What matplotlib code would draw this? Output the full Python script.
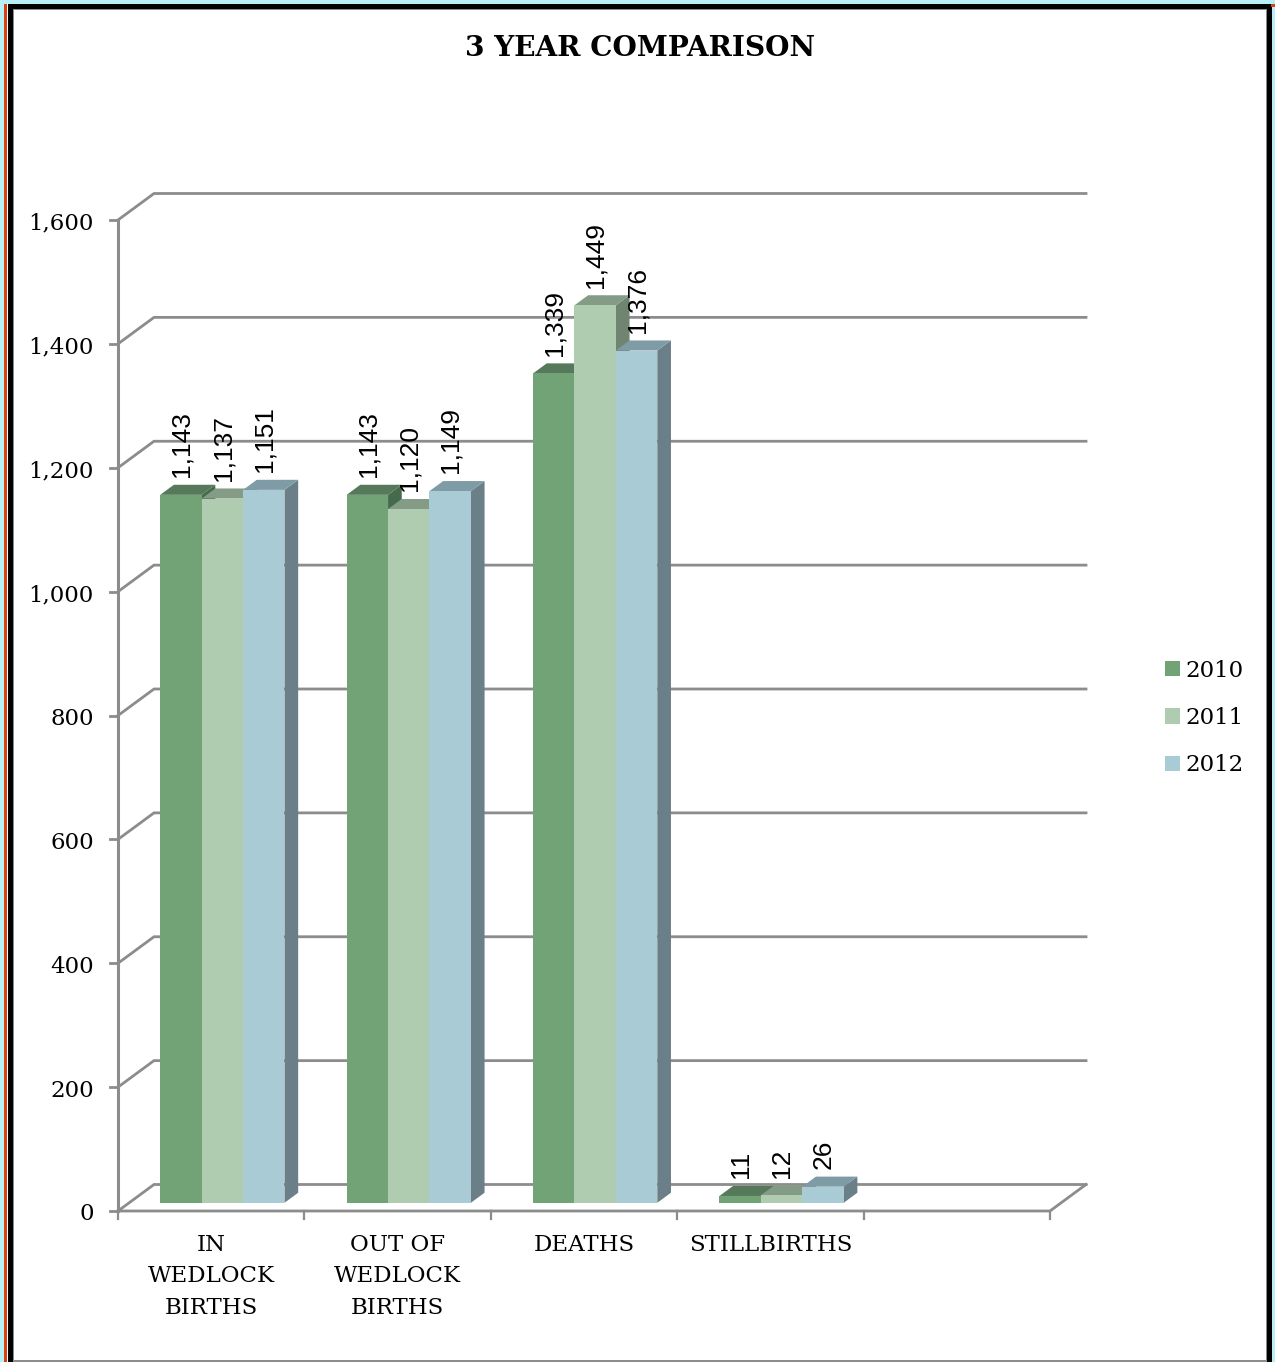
import matplotlib
matplotlib.use('Agg')
import matplotlib.pyplot as plt
from matplotlib.patches import Polygon, Rectangle

categories = ['IN\nWEDLOCK\nBIRTHS', 'OUT OF\nWEDLOCK\nBIRTHS', 'DEATHS', 'STILLBIRTHS']
series_names = ['2010', '2011', '2012']
values_2010 = [1143, 1143, 1339, 11]
values_2011 = [1137, 1120, 1449, 12]
values_2012 = [1151, 1149, 1376, 26]
y_ticks = [0, 200, 400, 600, 800, 1000, 1200, 1400, 1600]

front_colors = ['#72a377', '#afccb0', '#a8cbd6']
top_colors = ['#55795a', '#849c86', '#7f9ba6']
side_colors = ['#466a4c', '#6f8571', '#6a7f88']
grid_color = '#8c8c8c'

W, H = 1275, 1362
fig = plt.figure(figsize=(W / 100, H / 100), dpi=100)
fig.patch.set_facecolor('white')


def box(l, t, r, b):
    # pixel box, top-left origin -> figure fraction
    return [l / W, 1 - b / H, (r - l) / W, (b - t) / H]


# frame around the picture
frame = [((0, 0, 1275, 4), '#b8eef5'), ((0, 0, 4, 1362), '#b8eef5'),
         ((1272, 0, 1275, 1362), '#b8eef5'), ((4, 4, 7, 1362), '#d8400f'),
         ((7, 4, 8, 1362), 'white'), ((8, 4, 1272, 9), 'black'), ((8, 4, 13, 1362), 'black'),
         ((1267, 4, 1272, 1362), 'black'), ((1271, 4, 1275, 7), '#d8400f'),
         ((13, 9, 1267, 10), '#8c8c8c'), ((13, 9, 14, 1362), '#8c8c8c'),
         ((1266, 9, 1267, 1362), '#8c8c8c'), ((13, 1360, 1267, 1362), '#8c8c8c')]
for (l, t, r, b), c in frame:
    x0, y0, w, h = box(l, t, r, b)
    fig.add_artist(Rectangle((x0, y0), w, h, transform=fig.transFigure, fc=c, ec='none'))

ax = fig.add_axes(box(118, 220, 1050, 1211))
ax.set_xlim(0, 5)
ax.set_ylim(0, 1600)
ax.axis('off')

# oblique depth of the 3d box, in data units
px_x = 5 / 932
px_y = 1600 / 991
depth_x = 36 * px_x
depth_y = 26.5 * px_y


def proj(x, y, d):
    return x + d * depth_x, y + d * depth_y


# walls and floor
for v in y_ticks:
    ax.plot([0, depth_x, 5 + depth_x], [v, v + depth_y, v + depth_y], color=grid_color,
            lw=2, clip_on=False, zorder=1, solid_joinstyle='miter')
    ax.plot([-8 * px_x, 0], [v, v], color=grid_color, lw=2, clip_on=False, zorder=1)
ax.plot([0, 0], [0, 1600], color=grid_color, lw=2.2, clip_on=False, zorder=1)
ax.plot([0, 5, 5 + depth_x], [0, 0, depth_y], color=grid_color, lw=2, clip_on=False, zorder=1)
for i in range(6):
    ax.plot([i, i], [0, -8 * px_y], color=grid_color, lw=1.6, clip_on=False, zorder=1)

# bars, back to front and left to right
d0, d1 = 0.31, 0.69
bar_w = 2 / 9
series = [values_2010, values_2011, values_2012]
z = 2
for c in range(len(categories)):
    for s in range(3):
        v = series[s][c]
        left = c + 1 / 6 + s * bar_w
        right = left + bar_w
        top = [proj(left, v, d0), proj(right, v, d0), proj(right, v, d1), proj(left, v, d1)]
        side = [proj(right, 0, d0), proj(right, v, d0), proj(right, v, d1), proj(right, 0, d1)]
        front = [proj(left, 0, d0), proj(right, 0, d0), proj(right, v, d0), proj(left, v, d0)]
        for pts, col in [(side, side_colors[s]), (top, top_colors[s]), (front, front_colors[s])]:
            ax.add_patch(Polygon(pts, closed=True, fc=col, ec='none', clip_on=False, zorder=z))
            z += 1
        # label sits over the front face, just above the back edge of the top
        lx = proj((left + right) / 2, v, d0)[0]
        ly = proj(left, v, d1)[1]
        ax.annotate(f'{v:,}', (lx, ly), xytext=(0.5, 5.5), textcoords='offset points', rotation=90,
                    ha='center', va='bottom', fontsize=19, family='Liberation Sans', zorder=100)

serif = 'DejaVu Serif'
for v in y_ticks:
    ax.annotate(f'{v:,}', (0, v), xytext=(-17.5, -2.5), textcoords='offset points', ha='right',
                va='center', fontsize=16.5, family=serif)
for c, name in enumerate(categories):
    ax.annotate(name, (c + 0.5, 0), xytext=(0, -16.5), textcoords='offset points', ha='center',
                va='top', fontsize=16.5, family=serif, linespacing=1.55)

fig.text(640 / W, 1 - 49 / H, '3 YEAR COMPARISON', ha='center', va='center', fontsize=20.2,
         fontweight='bold', family=serif)

# legend
handles = [Rectangle((0, 0), 1, 1, fc=c, ec='none') for c in front_colors]
fig.legend(handles, series_names, loc='center left', bbox_to_anchor=(1144 / W, 1 - 718 / H),
           frameon=False, prop={'family': serif, 'size': 16.5}, handlelength=0.65, handleheight=0.65,
           handletextpad=0.27, labelspacing=1.1)

fig.savefig('out.png', dpi=100)
